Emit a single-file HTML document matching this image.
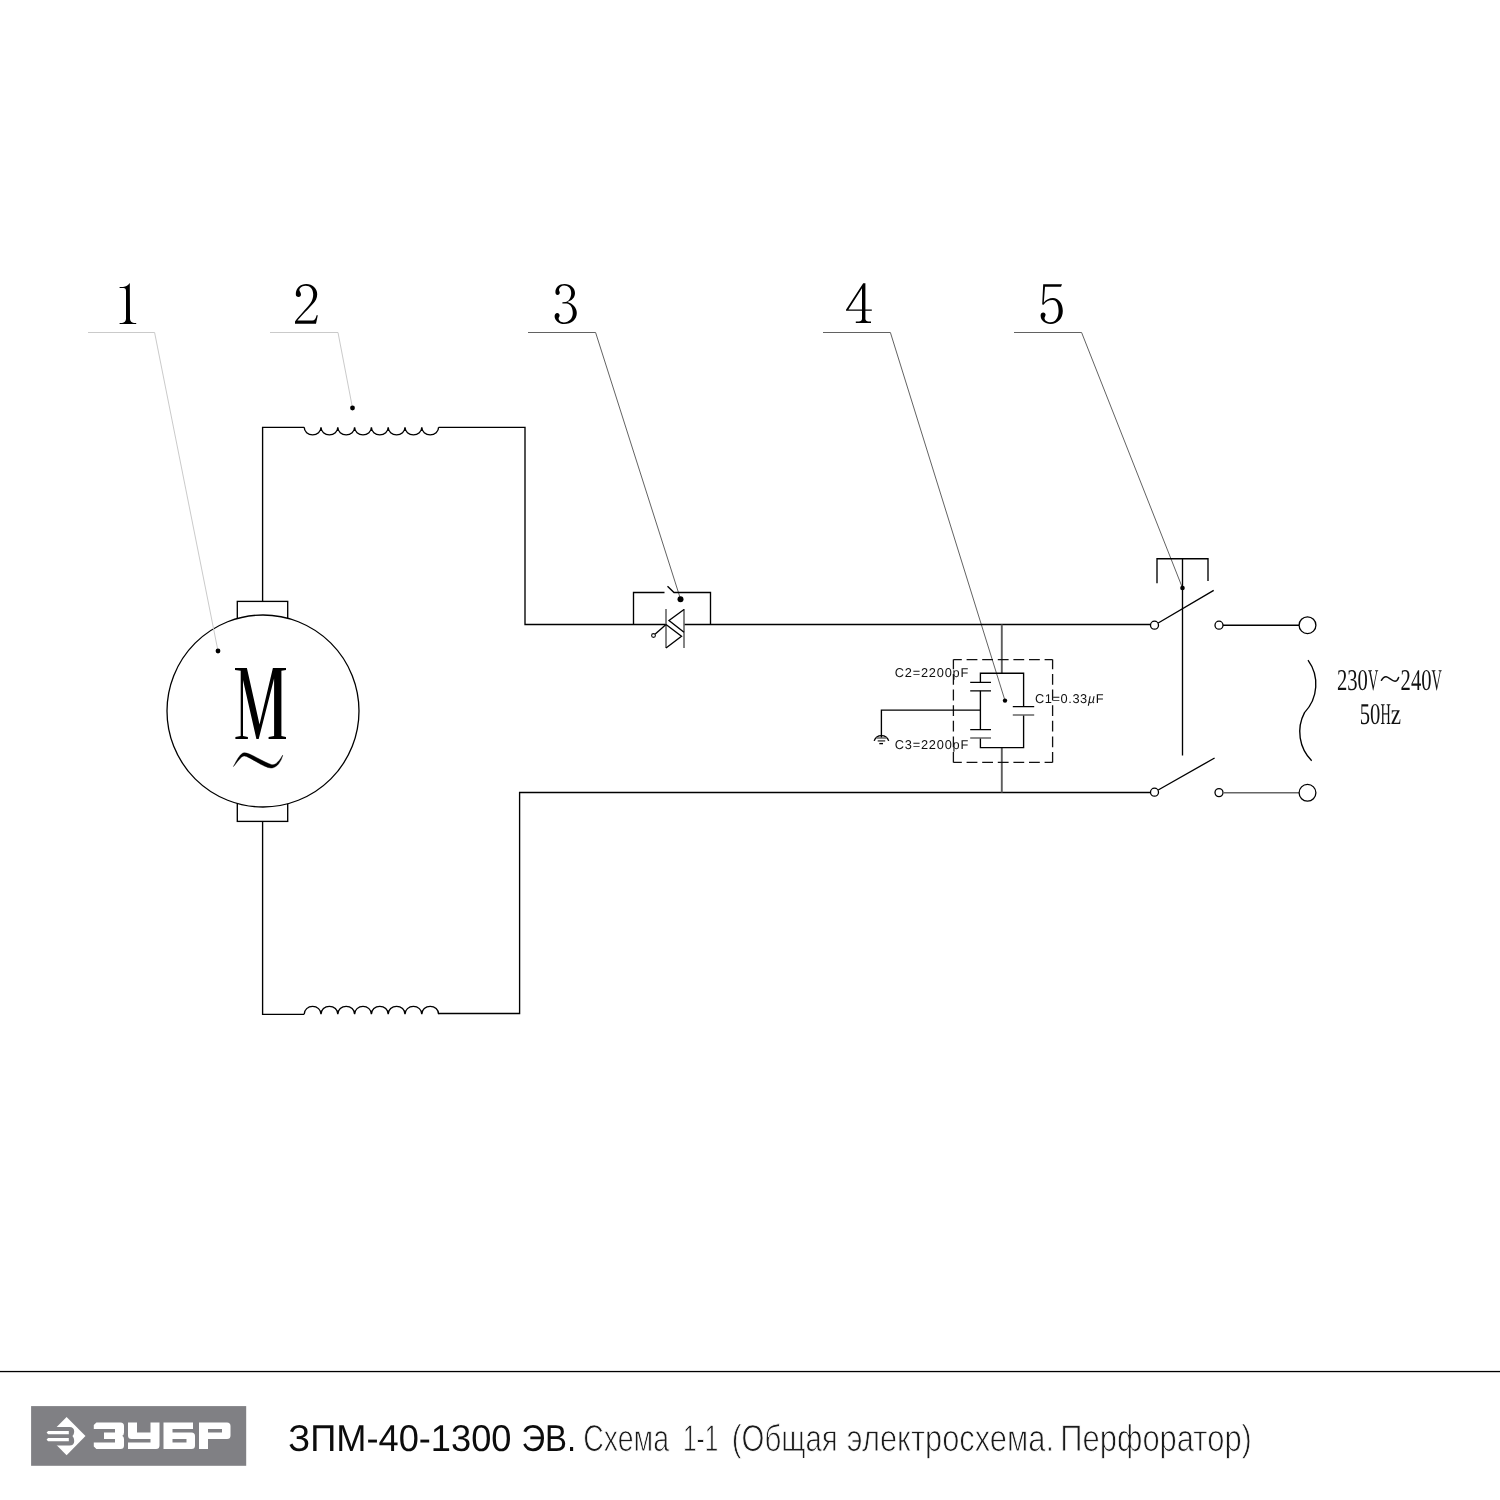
<!DOCTYPE html>
<html lang="ru">
<head>
<meta charset="utf-8">
<title>ЗПМ-40-1300 ЭВ. Схема 1-1</title>
<style>
html,body{margin:0;padding:0;background:#fff;}
body{width:1500px;height:1500px;overflow:hidden;position:relative;font-family:"Liberation Sans",sans-serif;}
svg{position:absolute;left:0;top:0;display:block;will-change:transform;}
text{text-rendering:geometricPrecision;}
.w{fill:none;stroke:#000;stroke-width:1.35;stroke-linecap:butt;stroke-linejoin:miter;}
.g{fill:none;stroke:#666;stroke-width:1.6;}
.ll{fill:none;stroke:#c4c4c4;stroke-width:0.9;}
.ld{fill:none;stroke:#505050;stroke-width:0.9;}
.dot{fill:#000;stroke:none;}
.num{font-family:"Liberation Serif",serif;font-size:61px;fill:#000;stroke:#fff;stroke-width:1.5px;}
.cad{font-family:"Liberation Sans",sans-serif;font-size:12.8px;fill:#111;}
.volt{font-family:"Liberation Serif",serif;font-size:30.2px;fill:#111;}
</style>
</head>
<body>
<svg width="1500" height="1500" viewBox="0 0 1500 1500">
<rect x="0" y="0" width="1500" height="1500" fill="#fff"/>

<!-- ===== numbers ===== -->
<g id="numbers" fill="#000" stroke="none">
<path d="M129.8 283L130 319Q130.3 322.6 134 322.9L136.2 323V324.1H119.6V323L122 322.9Q125.7 322.6 126 319V291Q126 288.2 123.5 288.1H119.6V287H123Q127.5 286.5 129.8 283Z"/>
<path d="M295.8 294.2C295.8 288 300.5 284 306.2 284C312.500 284 317.2 288.5 317.2 294.2C317.2 298 315.5 301 313 303.8C309 308.5 302 315 297.4 320.6H312.2C314.5 320.6 315.8 318.5 316.6 315.2H317.8L316 323.800H295V321.4C299 316 306.5 308.5 310.6 303C312.400 300.3 313.2 297.5 313.2 294.2C313.2 289 310 285.7 305.8 285.7C303 285.7 300.8 287 299.8 288.6C299.2 289.6 299.3 290.5 299.8 291.3C300.6 292.500 301 293.4 301 294.6C301 296.1 300 297 298.6 297C296.9 297 295.8 295.9 295.8 294.2Z"/>
<path d="M555.4 292.2C555.4 287.5 559 284 564.6 284C570.5 284 575 288 575 293C575 297.5 572 300.5 567.4 301.9C572.5 303.3 576.8 307.5 576.8 313C576.8 319.5 571.5 324 564.2 324C559 324 554.6 320.5 554.6 316.2C554.6 314.3 555.7 313 557.2 313C558.6 313 559.6 314 559.6 315.4C559.6 316.5 558.8 317.2 558.6 318.2C558.6 320.5 560.8 322.400 563.8 322.400C569 322.400 572.8 318.5 572.8 313C572.8 308 570.5 304 566.6 303.6H562.4V302.2L565.4 302.1C569 301.5 571.2 297.5 571.2 293C571.2 288.5 568.2 285.6 564.2 285.6C561.5 285.6 559.3 287.5 559 289.8C559 291 559.8 291.5 559.8 292.6C559.8 294 558.9 295 557.6 295C556.2 295 555.4 293.8 555.4 292.2Z"/>
<path fill-rule="evenodd" d="M863.2 283.2H865.4V309.4H871.8V310.8H865.4V319Q865.6 321.4 868.5 321.6H871V323H855.8V321.6H858.8Q861.8 321.4 862 319V310.8H846V309.8ZM862 288.2V309.4H848.4Z"/>
<path d="M1043.2 284.2H1062L1061 286.8H1045L1043.8 302.6C1046 299.5 1049.5 298 1053 298C1058.5 298 1062.8 303.5 1062.8 311C1062.8 318.5 1057.5 324 1050.6 324C1045 324 1040.6 320.5 1040.6 315.6C1040.6 313.6 1041.7 312.400 1043.2 312.400C1044.7 312.400 1045.6 313.4 1045.6 314.8C1045.6 316 1044.6 317 1044.5 318C1044.5 320.4 1047 322.3 1050.6 322.3C1055.5 322.3 1058.6 317.5 1058.6 311C1058.6 304.5 1056.5 300 1052.6 300C1048.5 300 1045.5 302 1043.6 304.8L1042.2 304.6Z"/>
</g>

<!-- ===== motor ===== -->
<g id="motor">
<rect class="w" x="237.3" y="601.4" width="50.4" height="20"/>
<rect class="w" x="237.3" y="801.4" width="50.4" height="20"/>
<circle cx="263" cy="711" r="96" fill="#fff" stroke="#000" stroke-width="1.3"/>
<path fill="#000" d="M235 667.9L246.9 667.9L259.5 724.4L272.9 667.9L286 667.9L286 670L281.4 670.7L281.4 735.9L286 736.9L286 739L268.6 739L268.6 736.9L274.1 735.9L274.1 678.4L258.7 739L256.4 739L243 679.9L243 735.9L247.9 736.9L247.9 739L235.4 739L235.4 736.9L240.7 735.9L240.7 670.7L235 670Z"/>
<path fill="#000" d="M233.4 766.6C236 762 240 753 244.2 752.8C250 752.6 262 761.5 271.8 764.7C276 765.5 280 760 282.7 755.1C281.5 761 277 768 271 768.1C263 767.5 250 756.5 244.2 755.9C241 756 237 762.5 233.4 766.6Z" stroke="#000" stroke-width="0.4"/>
</g>

<!-- ===== leader lines ===== -->
<g id="leaders">
<path class="ll" d="M88 332.5H154.6L218 651"/>
<path class="ll" d="M270 332.5H338L352.5 408"/>
<path class="ld" d="M528 332.5H595.6L680.5 599"/>
<path class="ld" d="M823 332.5H890.4L1005 700.6"/>
<path class="ld" d="M1014 332.5H1081.6L1182.5 588"/>
</g>

<!-- ===== main wires ===== -->
<g id="wires">
<path class="w" d="M262.6 601.4V427.3H304.2"/>
<path class="w" d="M304.2 427.3a8.4 7.6 0 0 0 16.8 0a8.4 7.6 0 0 0 16.8 0a8.4 7.6 0 0 0 16.8 0a8.4 7.6 0 0 0 16.8 0a8.4 7.6 0 0 0 16.8 0a8.4 7.6 0 0 0 16.8 0a8.4 7.6 0 0 0 16.8 0a8.4 7.6 0 0 0 16.8 0"/>
<path class="w" d="M438.6 427.3H525V624.5H666"/>
<path class="w" d="M684 624.5H1150.4"/>
<path class="w" d="M262.6 821.4V1014.4H304.2"/>
<path class="w" d="M304.2 1014.2a8.4 7.9 0 0 1 16.8 0a8.4 7.9 0 0 1 16.8 0a8.4 7.9 0 0 1 16.8 0a8.4 7.9 0 0 1 16.8 0a8.4 7.9 0 0 1 16.8 0a8.4 7.9 0 0 1 16.8 0a8.4 7.9 0 0 1 16.8 0a8.4 7.9 0 0 1 16.8 0"/>
<path class="w" d="M438.6 1013.5H519.6V792.45H1150.4"/>
</g>

<!-- ===== triac (3) ===== -->
<g id="triac">
<path class="w" d="M633.5 624.5V592.5H664.5"/>
<path class="w" d="M667.5 586.2L674 592.5H710.5V624.5"/>
<path class="g" d="M666 609V648M684 609V648"/>
<path class="w" d="M684 609.5L669 620.5L684 632.2"/>
<path class="w" d="M666 624.5L681.5 636.2L666 648"/>
<path class="w" d="M666 624.5L655 634.3"/>
<circle cx="653.5" cy="635.5" r="1.9" fill="#fff" stroke="#111" stroke-width="1.1"/>
</g>

<!-- ===== filter (4) ===== -->
<g id="filter">
<path d="M1001.8 624.5V673.2M1001.8 747.6V792.4" fill="none" stroke="#5e5e5e" stroke-width="1.9"/>
<g fill="none" stroke="#111" stroke-width="1.3" stroke-dasharray="10.8 4.8">
<path d="M953.4 659.6H1052.6" stroke-dashoffset="2.4"/>
<path d="M953.4 762.4H1052.6" stroke-dashoffset="2.4"/>
<path d="M953.4 659.6V762.4" stroke-dashoffset="1.2"/>
<path d="M1052.6 659.6V762.4" stroke-dashoffset="1.2"/>
</g>
<path class="w" d="M980.4 682.4V673.2H1023.6V706.6M1023.6 715V747.6H980.4V738M980.4 690.8V729.6"/>
<path class="w" d="M970.2 682.4H991M970.2 690.8H991M970.2 729.6H991M1012.8 706.600H1034.2"/>
<path class="g" d="M970.2 738H991M1012.8 715H1034.2"/>
<path class="w" d="M980.4 710.1H881.4V738.1"/>
<path class="w" d="M874.2 740.9A7.6 7.6 0 0 1 888.7 740.9"/>
<path class="g" d="M876.4 738H886.6M877.7 740.9H885.2"/>
<path class="w" d="M879.3 743.6H883"/>
<text class="cad" x="894.7" y="677.2" textLength="73.6" lengthAdjust="spacing">C2=2200pF</text>
<text class="cad" x="894.7" y="749.2" textLength="73.6" lengthAdjust="spacing">C3=2200pF</text>
<text class="cad" x="1035" y="703" textLength="68.6" lengthAdjust="spacing">C1=0.33<tspan font-style="italic">µ</tspan>F</text>
</g>

<!-- ===== switch (5) ===== -->
<g id="switch">
<path class="w" d="M1157 583.3V558.7H1208V581"/>
<path class="w" d="M1182.5 558.7V755.5"/>
<circle cx="1154.5" cy="625.2" r="4" fill="#fff" stroke="#000" stroke-width="1.3"/>
<circle cx="1219" cy="625.2" r="4" fill="#fff" stroke="#000" stroke-width="1.3"/>
<circle cx="1154.5" cy="792.2" r="4" fill="#fff" stroke="#000" stroke-width="1.3"/>
<circle cx="1219" cy="792.6" r="4" fill="#fff" stroke="#000" stroke-width="1.3"/>
<path class="w" d="M1158.2 623L1213.7 590.4M1158.2 790L1214.6 758"/>
<path class="w" d="M1223 625.2H1299"/>
<path class="g" d="M1223 792.8H1299"/>
<circle cx="1307.5" cy="625.2" r="8.4" fill="#fff" stroke="#000" stroke-width="1.3"/>
<circle cx="1307.5" cy="792.8" r="8.4" fill="#fff" stroke="#000" stroke-width="1.3"/>
<path class="w" d="M1308 660.2A41 41 0 0 1 1304.5 712.6A41 41 0 0 0 1311.7 760.7" stroke-linejoin="round"/>
<text class="volt" id="va0" x="1337.0" y="689.6" textLength="10.3" lengthAdjust="spacingAndGlyphs">2</text>
<text class="volt" id="va1" x="1347.3" y="689.6" textLength="10.3" lengthAdjust="spacingAndGlyphs">3</text>
<text class="volt" id="va2" x="1357.6" y="689.6" textLength="10.3" lengthAdjust="spacingAndGlyphs">0</text>
<text class="volt" id="va3" x="1367.9" y="689.6" textLength="10.3" lengthAdjust="spacingAndGlyphs">V</text>
<path fill="none" stroke="#111" stroke-width="1.5" stroke-linecap="round" d="M1381.4 680.3C1383 677.6 1384.6 676.4 1386.2 676.7C1389 677.2 1392 681.2 1395 681.3C1396.6 681.3 1397.8 679.6 1398.6 677.4"/>
<text class="volt" id="vb0" x="1400.6" y="689.6" textLength="10.3" lengthAdjust="spacingAndGlyphs">2</text>
<text class="volt" id="vb1" x="1410.9" y="689.6" textLength="10.3" lengthAdjust="spacingAndGlyphs">4</text>
<text class="volt" id="vb2" x="1421.2" y="689.6" textLength="10.3" lengthAdjust="spacingAndGlyphs">0</text>
<text class="volt" id="vb3" x="1431.5" y="689.6" textLength="10.3" lengthAdjust="spacingAndGlyphs">V</text>
<text class="volt" id="vc0" x="1359.8" y="724.4" textLength="10.3" lengthAdjust="spacingAndGlyphs">5</text>
<text class="volt" id="vc1" x="1370.1" y="724.4" textLength="10.3" lengthAdjust="spacingAndGlyphs">0</text>
<text class="volt" id="vc2" x="1380.4" y="724.4" textLength="10.3" lengthAdjust="spacingAndGlyphs">H</text>
<text class="volt" id="vc3" x="1390.7" y="724.4" textLength="10.3" lengthAdjust="spacingAndGlyphs">z</text>
</g>

<g id="dots">
<circle class="dot" cx="218" cy="651" r="2.4"/>
<circle class="dot" cx="352.5" cy="408" r="2.4"/>
<circle class="dot" cx="680.5" cy="599.2" r="3"/>
<circle class="dot" cx="1005" cy="700.6" r="2.2"/>
<circle class="dot" cx="1182.5" cy="588" r="2.3"/>
</g>

<!-- ===== footer ===== -->
<g id="footer">
<rect x="0" y="1370.9" width="1500" height="1.3" fill="#000"/>
<rect x="31.1" y="1406.1" width="215.1" height="59.7" fill="#808084"/>
<!-- logo icon -->
<g id="logo-icon">
<path fill="#fff" d="M66.6 1417L85.5 1436.1L66.6 1455.2L47.6 1436.1Z"/>
<path fill="#808084" d="M44 1426.9H69.5C72.6 1426.9 74.2 1428.8 74.2 1431.2C74.2 1433.6 73.4 1435 72.4 1436.1C73.4 1437.2 74.2 1438.8 74.2 1441.2C74.2 1443.8 72.6 1445.6 69.5 1445.6H44Z"/>
<path fill="#fff" d="M48.2 1430.9H68.8V1434.2H48.2L46.8 1432.8V1432.2Z"/>
<path fill="#fff" d="M48.2 1438H68.8V1441.3H48.2L46.8 1439.9V1439.3Z"/>
</g>
<!-- logo letters -->
<g id="logo-text" fill="#fff">
<path d="M96.4 1422.5H120.5Q124 1422.5 124 1426V1432.6Q124 1435 122.2 1435.8Q124 1436.6 124 1439V1445.5Q124 1449 120.5 1449H96.4L93.8 1446.4V1442.5H115V1439H104V1432.5H115V1429H93.8V1425.1Z"/>
<path d="M128 1422.5H137V1432.5H150.5V1422.5H159.5V1445.5Q159.5 1449 156 1449H128V1442.5H150.5V1439H131.5Q128 1439 128 1435.5Z"/>
<path d="M163.5 1422.5H193V1429H172.5V1432.5H191.5Q195 1432.5 195 1436V1445.5Q195 1449 191.500 1449H163.5ZM172.5 1439V1442.5H186.5V1439Z"/>
<path d="M199 1422.5H227Q230.5 1422.5 230.5 1426V1435.500Q230.5 1439 227 1439H208V1449H199ZM208 1429V1432.5H222V1429Z"/>
</g>
</g>
<!-- footer text -->
<g id="footer-text">
<text x="288.33" y="1450.6" font-family="Liberation Sans, sans-serif" font-size="37.4" fill="#0c0c0c" textLength="223.14" lengthAdjust="spacingAndGlyphs">ЗПМ-40-1300</text>
<text x="521.42" y="1450.6" font-family="Liberation Sans, sans-serif" font-size="37.4" fill="#0c0c0c" textLength="54.76" lengthAdjust="spacingAndGlyphs">ЭВ.</text>
<text x="583.24" y="1450.6" font-family="Liberation Sans, sans-serif" font-size="37.4" fill="#1a1a1a" stroke="#fff" stroke-width="0.9" textLength="85.81" lengthAdjust="spacingAndGlyphs">Схема</text>
<text x="683.0" y="1450.6" font-family="Liberation Sans, sans-serif" font-size="37.4" fill="#1a1a1a" stroke="#fff" stroke-width="0.9" textLength="35.17" lengthAdjust="spacingAndGlyphs">1-1</text>
<text x="731.73" y="1450.6" font-family="Liberation Sans, sans-serif" font-size="37.4" fill="#1a1a1a" stroke="#fff" stroke-width="0.9" textLength="106.04" lengthAdjust="spacingAndGlyphs">(Общая</text>
<text x="846.87" y="1450.6" font-family="Liberation Sans, sans-serif" font-size="37.4" fill="#1a1a1a" stroke="#fff" stroke-width="0.9" textLength="207.12" lengthAdjust="spacingAndGlyphs">электросхема.</text>
<text x="1060.32" y="1450.6" font-family="Liberation Sans, sans-serif" font-size="37.4" fill="#1a1a1a" stroke="#fff" stroke-width="0.9" textLength="191.58" lengthAdjust="spacingAndGlyphs">Перфоратор)</text>
</g>
</svg>
</body>
</html>
